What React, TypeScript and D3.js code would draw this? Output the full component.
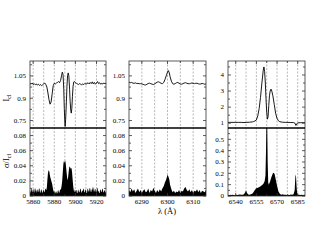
import React from 'react';
import * as d3 from 'd3';

type P = [number, number];

// ---- data ----
const naFlux: P[] = [
[5857,1.000],[5858,0.994],[5859,1.002],[5860,0.992],[5861,0.998],[5862,0.990],[5863,0.996],[5864,0.988],[5865,0.994],[5866,0.986],[5867,0.992],[5868,0.984],[5869,0.990],[5870,0.996],[5871,1.002],[5872,0.992],[5873,0.975],[5874,0.935],[5875,0.89],[5876,0.86],[5877,0.875],[5878,0.93],[5879,0.985],[5880,1.0],[5881,0.996],[5882,1.002],[5883,1.006],[5884,1.012],[5885,1.004],[5886,1.02],[5887,1.055],[5887.6,1.075],[5888.3,1.06],[5889,0.96],[5889.5,0.83],[5890,0.74],[5890.3,0.71],[5890.8,0.76],[5891.5,0.88],[5892,0.98],[5892.6,1.05],[5893.2,1.07],[5893.8,1.05],[5894.5,0.96],[5895,0.88],[5895.6,0.82],[5896.1,0.80],[5896.6,0.83],[5897.2,0.91],[5897.8,0.98],[5898.5,1.01],[5899,1.012],[5900,1.005],[5901,1.0],[5902,0.996],[5903,0.992],[5904,0.998],[5905,0.994],[5906,0.99],[5907,0.996],[5908,0.992],[5909,1.0],[5910,0.994],[5911,0.998],[5912,1.004],[5913,0.996],[5914,1.006],[5915,0.998],[5916,1.01],[5917,0.996],[5918,1.006],[5919,0.994],[5920,1.002],[5921,1.012],[5922,0.998],[5923,1.004],[5924,0.994],[5925,1.0],[5926,0.996],[5927,1.002],[5928,0.998],[5929,1.0]
];
const naSigma: P[] = [
[5857,0.008],[5857.5,0.004],[5858,0.006],[5858.5,0.01],[5859,0.009],[5859.5,0.005],[5860,0.005],[5860.5,0.009],[5861,0.01],[5861.5,0.004],[5862,0.007],[5862.5,0.011],[5863,0.004],[5863.5,0.008],[5864,0.009],[5864.5,0.005],[5865,0.006],[5865.5,0.01],[5866,0.01],[5866.5,0.004],[5867,0.005],[5867.5,0.009],[5868,0.008],[5868.5,0.005],[5869,0.004],[5869.5,0.009],[5870,0.007],[5870.5,0.005],[5871,0.006],[5871.5,0.01],[5872,0.009],[5872.5,0.008],[5873,0.012],[5873.5,0.022],[5874,0.03],[5874.6,0.034],[5875.2,0.033],[5876,0.026],[5877,0.021],[5878,0.016],[5878.6,0.011],[5879,0.008],[5880,0.004],[5880.5,0.007],[5881,0.003],[5881.5,0.006],[5882,0.006],[5882.5,0.003],[5883,0.004],[5883.5,0.008],[5884,0.007],[5884.5,0.004],[5885,0.005],[5885.5,0.009],[5886,0.008],[5886.5,0.01],[5887,0.014],[5887.5,0.02],[5888,0.03],[5888.6,0.042],[5889.2,0.047],[5889.8,0.044],[5890.4,0.047],[5891,0.041],[5891.6,0.032],[5892.2,0.024],[5892.7,0.021],[5893.2,0.026],[5893.8,0.034],[5894.3,0.039],[5895,0.038],[5895.6,0.036],[5896.3,0.037],[5896.8,0.032],[5897.4,0.022],[5898,0.012],[5898.7,0.006],[5899,0.005],[5899.5,0.009],[5900,0.005],[5900.5,0.008],[5901,0.008],[5901.5,0.004],[5902,0.004],[5902.5,0.009],[5903,0.007],[5903.5,0.005],[5904,0.005],[5904.5,0.01],[5905,0.009],[5905.5,0.006],[5906,0.004],[5906.5,0.008],[5907,0.006],[5907.5,0.009],[5908,0.01],[5908.5,0.005],[5909,0.005],[5909.5,0.009],[5910,0.008],[5910.5,0.004],[5911,0.004],[5911.5,0.01],[5912,0.009],[5912.5,0.006],[5913,0.006],[5913.5,0.011],[5914,0.01],[5914.5,0.006],[5915,0.005],[5915.5,0.009],[5916,0.008],[5916.5,0.012],[5917,0.011],[5917.5,0.006],[5918,0.006],[5918.5,0.01],[5919,0.009],[5919.5,0.005],[5920,0.005],[5920.5,0.011],[5921,0.01],[5921.5,0.006],[5922,0.007],[5922.5,0.004],[5923,0.004],[5923.5,0.009],[5924,0.008],[5924.5,0.005],[5925,0.006],[5925.5,0.01],[5926,0.009],[5926.5,0.005],[5927,0.005],[5927.5,0.008],[5928,0.007],[5928.5,0.004],[5929,0.006]
];
const oiFlux: P[] = [
[6285,1.008],[6285.5,1.004],[6286,1.006],[6286.5,1.002],[6287,1.0],[6287.5,1.003],[6288,0.999],[6288.5,1.0],[6289,0.997],[6289.5,0.998],[6290,0.996],[6290.5,0.993],[6291,0.99],[6291.5,0.989],[6292,0.994],[6292.5,0.999],[6293,1.001],[6293.5,0.998],[6294,0.994],[6294.5,0.992],[6295,0.996],[6295.5,1.002],[6296,1.008],[6296.5,1.01],[6297,1.006],[6297.5,1.0],[6298,0.998],[6298.5,1.005],[6299,1.025],[6299.5,1.05],[6300,1.075],[6300.3,1.086],[6300.7,1.07],[6301,1.045],[6301.5,1.015],[6302,0.998],[6302.5,0.994],[6303,0.998],[6303.5,1.004],[6304,1.006],[6304.5,1.0],[6305,0.995],[6305.5,0.994],[6306,0.998],[6306.5,1.002],[6307,1.004],[6307.5,1.001],[6308,0.998],[6308.5,0.997],[6309,1.0],[6309.5,1.002],[6310,1.0],[6310.5,0.998],[6311,1.0],[6311.5,1.001],[6312,0.997],[6312.5,0.995],[6313,0.996],[6313.5,0.999],[6314,0.997],[6314.5,0.994],[6315,0.996]
];
const oiSigma: P[] = [
[6285,0.008],[6285.5,0.005],[6286,0.01],[6286.5,0.006],[6287,0.009],[6287.5,0.004],[6288,0.007],[6288.5,0.01],[6289,0.005],[6289.5,0.008],[6290,0.004],[6290.5,0.007],[6291,0.009],[6291.5,0.005],[6292,0.006],[6292.5,0.01],[6293,0.004],[6293.5,0.008],[6294,0.006],[6294.5,0.011],[6295,0.007],[6295.5,0.004],[6296,0.008],[6296.5,0.005],[6297,0.009],[6297.5,0.006],[6298,0.01],[6298.5,0.013],[6299,0.018],[6299.5,0.022],[6300,0.028],[6300.3,0.026],[6300.7,0.022],[6301,0.015],[6301.5,0.009],[6302,0.005],[6302.5,0.007],[6303,0.004],[6303.5,0.006],[6304,0.005],[6304.5,0.008],[6305,0.004],[6305.5,0.007],[6306,0.006],[6306.5,0.01],[6307,0.012],[6307.5,0.008],[6308,0.006],[6308.5,0.009],[6309,0.005],[6309.5,0.008],[6310,0.004],[6310.5,0.007],[6311,0.006],[6311.5,0.009],[6312,0.005],[6312.5,0.008],[6313,0.004],[6313.5,0.007],[6314,0.006],[6314.5,0.005],[6315,0.008]
];
const haFlux: P[] = [
[6534.4,1.05],[6536,1.05],[6538,1.05],[6540,1.05],[6542,1.05],[6544,1.05],[6546,1.04],[6548,1.05],[6550,1.06],[6552,1.08],[6553,1.1],[6554,1.14],[6555,1.2],[6556,1.45],[6557,1.9],[6558,2.6],[6559,3.5],[6560,4.3],[6560.5,4.5],[6561,4.2],[6561.5,3.5],[6562,2.5],[6562.5,1.7],[6563,1.25],[6563.5,1.4],[6564,2.1],[6564.5,2.7],[6565,3.0],[6565.6,3.12],[6566.2,3.0],[6567,2.7],[6568,2.15],[6569,1.6],[6570,1.3],[6571,1.15],[6572,1.09],[6574,1.06],[6576,1.05],[6578,1.05],[6580,1.04],[6582,1.04],[6583,1.0],[6583.7,0.86],[6584.3,0.95],[6585,1.02],[6587,1.03],[6590.3,1.03]
];
const haSigma: P[] = [
[6534.4,0.01],[6535,0.006],[6536,0.012],[6537,0.008],[6538,0.01],[6539,0.007],[6540,0.012],[6541,0.008],[6542,0.01],[6543,0.014],[6544,0.01],[6545,0.012],[6546,0.015],[6547,0.035],[6547.5,0.05],[6548,0.03],[6549,0.014],[6550,0.012],[6551,0.015],[6552,0.02],[6553,0.035],[6554,0.055],[6555,0.068],[6556,0.072],[6557,0.078],[6558,0.085],[6559,0.095],[6560,0.105],[6561,0.13],[6561.6,0.18],[6562,0.4],[6562.4,0.75],[6562.8,0.7],[6563.2,0.3],[6563.6,0.12],[6564,0.1],[6565,0.13],[6566,0.17],[6567,0.2],[6567.7,0.205],[6568.3,0.19],[6569,0.15],[6570,0.09],[6571,0.04],[6572,0.02],[6573,0.012],[6574,0.015],[6575,0.01],[6576,0.012],[6577,0.008],[6578,0.011],[6579,0.009],[6580,0.013],[6581,0.01],[6582,0.015],[6582.8,0.05],[6583.3,0.17],[6583.7,0.19],[6584.2,0.08],[6584.7,0.015],[6585,0.01],[6586,0.012],[6587,0.008],[6588,0.011],[6589,0.009],[6590.3,0.01]
];

const naXDomain = [5857, 5929];
const naXTicks = [5860, 5880, 5900, 5920];
const naXGrid = [5860, 5870, 5880, 5890, 5900, 5910, 5920];
const oiXDomain = [6285, 6315];
const oiXTicks = [6290, 6300, 6310];
const oiXGrid = [6290, 6295, 6300, 6305, 6310];
const haXDomain = [6534.4, 6590.3];
const haXTicks = [6540, 6555, 6570, 6585];
const haXGrid = [6540, 6547.5, 6555, 6562.5, 6570, 6577.5, 6585];

const fluxDomainA = [0.7, 1.15];
const fluxTicksA = [0.75, 0.9, 1.05];
const fluxMinorA = [0.825, 0.975, 1.125];
const sigDomainA = [0, 0.09];
const sigTicksA = [0, 0.02, 0.04, 0.06, 0.08];
const sigMinorA = [0.01, 0.03, 0.05, 0.07];
const fluxDomainH = [0.7, 4.87];
const fluxTicksH = [1, 2, 3, 4];
const fluxMinorH = [1.5, 2.5, 3.5, 4.5];
const sigDomainH = [0, 0.6];
const sigTicksH = [0, 0.1, 0.2, 0.3, 0.4, 0.5];
const sigMinorH = [0.05, 0.15, 0.25, 0.35, 0.45, 0.55];

// ---- layout ----
const W = 317, H = 245;
const TOP = 61, MID = 128, BOT = 196;
const FONT = "'Liberation Serif', 'DejaVu Serif', serif";

interface PanelProps {
  id: string; x0: number; x1: number;
  xDomain: number[]; xTicks: number[]; xGrid: number[];
  flux: P[]; sigma: P[];
  fDomain: number[]; fTicks: number[]; fMinor: number[];
  sDomain: number[]; sTicks: number[]; sMinor: number[];
}

function Panel(p: PanelProps) {
  const x = d3.scaleLinear().domain(p.xDomain).range([p.x0, p.x1]);
  const yf = d3.scaleLinear().domain(p.fDomain).range([MID, TOP]);
  const ys = d3.scaleLinear().domain(p.sDomain).range([BOT, MID]);
  const line = d3.line<P>().x(d => x(d[0])).y(d => yf(d[1]));
  const area = d3.area<P>().x(d => x(d[0])).y0(ys(0)).y1(d => ys(d[1]));
  const frame = '#333';
  const yTick = (y: number, len: number, key: string) => (
    <g key={key}>
      <line x1={p.x0} x2={p.x0 + len} y1={y} y2={y} stroke={frame} strokeWidth={0.8} />
      <line x1={p.x1 - len} x2={p.x1} y1={y} y2={y} stroke={frame} strokeWidth={0.8} />
    </g>
  );
  return (
    <g>
      <defs>
        <clipPath id={`ct-${p.id}`}><rect x={p.x0} y={TOP} width={p.x1 - p.x0} height={MID - TOP} /></clipPath>
        <clipPath id={`cb-${p.id}`}><rect x={p.x0} y={MID} width={p.x1 - p.x0} height={BOT - MID} /></clipPath>
      </defs>
      {p.xGrid.map(v => (
        <line key={'g' + v} x1={x(v)} x2={x(v)} y1={TOP} y2={BOT} stroke="#888" strokeWidth={0.6} strokeDasharray="2,1.5" />
      ))}
      <path d={line(p.flux) || ''} fill="none" stroke="#000" strokeWidth={0.9} clipPath={`url(#ct-${p.id})`} />
      <path d={area(p.sigma) || ''} fill="#000" stroke="none" clipPath={`url(#cb-${p.id})`} />
      <rect x={p.x0} y={TOP} width={p.x1 - p.x0} height={BOT - TOP} fill="none" stroke={frame} strokeWidth={0.8} />
      <line x1={p.x0} x2={p.x1} y1={MID} y2={MID} stroke="#000" strokeWidth={1.6} />
      {p.fTicks.map(v => yTick(yf(v), 3, 'ft' + v))}
      {p.fMinor.filter(v => v < p.fDomain[1]).map(v => yTick(yf(v), 2, 'fm' + v))}
      {p.sTicks.map(v => yTick(ys(v), 3, 'st' + v))}
      {p.sMinor.filter(v => v < p.sDomain[1]).map(v => yTick(ys(v), 2, 'sm' + v))}
      {p.xGrid.map(v => {
        const major = p.xTicks.includes(v);
        const len = major ? 3 : 2;
        return (
          <g key={'xt' + v}>
            <line x1={x(v)} x2={x(v)} y1={BOT} y2={BOT - len} stroke={frame} strokeWidth={0.8} />
            <line x1={x(v)} x2={x(v)} y1={TOP} y2={TOP + len} stroke={frame} strokeWidth={0.8} />
          </g>
        );
      })}
      {p.fTicks.map(v => (
        <text key={'fl' + v} x={p.x0 - 4} y={yf(v)} dy="0.33em" textAnchor="end" fontSize={7} fontFamily={FONT} fill="#000">{String(v)}</text>
      ))}
      {p.sTicks.map(v => (
        <text key={'sl' + v} x={p.x0 - 4} y={ys(v)} dy="0.33em" textAnchor="end" fontSize={7} fontFamily={FONT} fill="#000">{String(v)}</text>
      ))}
      {p.xTicks.map(v => (
        <text key={'xl' + v} x={x(v)} y={BOT + 8} textAnchor="middle" fontSize={7} fontFamily={FONT} fill="#000">{String(v)}</text>
      ))}
    </g>
  );
}

export default function App() {
  return (
    <svg width={W} height={H} style={{ position: 'absolute', left: 0, top: 0, background: '#fff' }}>
      <rect x={0} y={0} width={W} height={H} fill="#fff" />
      <Panel id="na" x0={30} x1={106} xDomain={naXDomain} xTicks={naXTicks} xGrid={naXGrid}
        flux={naFlux} sigma={naSigma} fDomain={fluxDomainA} fTicks={fluxTicksA} fMinor={fluxMinorA}
        sDomain={sigDomainA} sTicks={sigTicksA} sMinor={sigMinorA} />
      <Panel id="oi" x0={129} x1={206} xDomain={oiXDomain} xTicks={oiXTicks} xGrid={oiXGrid}
        flux={oiFlux} sigma={oiSigma} fDomain={fluxDomainA} fTicks={fluxTicksA} fMinor={fluxMinorA}
        sDomain={sigDomainA} sTicks={sigTicksA} sMinor={sigMinorA} />
      <Panel id="ha" x0={228} x1={305} xDomain={haXDomain} xTicks={haXTicks} xGrid={haXGrid}
        flux={haFlux} sigma={haSigma} fDomain={fluxDomainH} fTicks={fluxTicksH} fMinor={fluxMinorH}
        sDomain={sigDomainH} sTicks={sigTicksH} sMinor={sigMinorH} />
      <text transform="translate(9,98) rotate(-90)" textAnchor="middle" fontSize={8.5} fontFamily={FONT} fill="#000">
        I<tspan fontSize={6} dy={2}>cl</tspan>
      </text>
      <text transform="translate(9,161) rotate(-90)" textAnchor="middle" fontSize={8.5} fontFamily={FONT} fill="#000">
        σ/I<tspan fontSize={6} dy={2}>cl</tspan>
      </text>
      <text x={167} y={214} textAnchor="middle" fontSize={8.5} fontFamily={FONT} fill="#000">λ (Å)</text>
    </svg>
  );
}
